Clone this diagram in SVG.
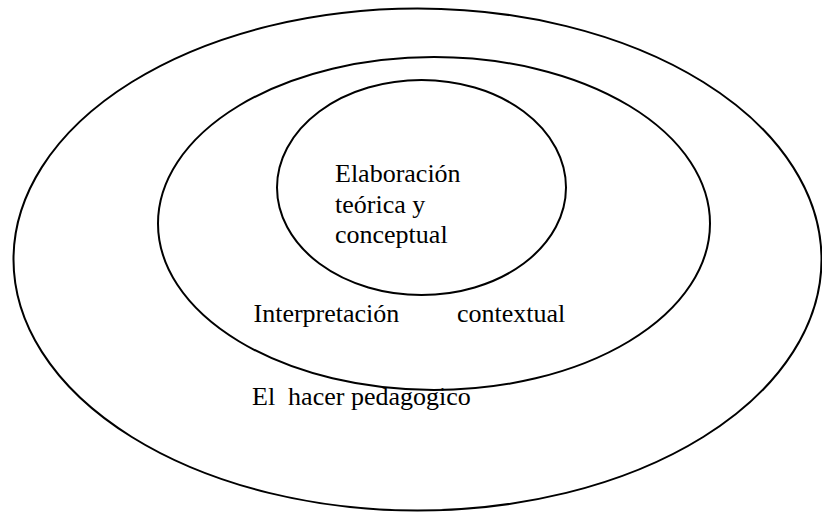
<svg xmlns="http://www.w3.org/2000/svg" width="822" height="512" viewBox="0 0 822 512">
<style>
.ring{fill:none;stroke:#000;stroke-width:2}
.t{font-family:"Liberation Serif","Times New Roman",serif;font-size:26px;fill:#000;white-space:pre}
</style>
<rect x="0" y="0" width="822" height="512" fill="#fff"/>
<g id="outer">
<ellipse class="ring" cx="417.5" cy="259.5" rx="404" ry="251"/>
<text class="t" x="252" y="405" xml:space="preserve">El  hacer pedagogico</text>
</g>
<g id="middle">
<ellipse class="ring" cx="434" cy="223.5" rx="276" ry="166.5"/>
<text class="t" x="253.5" y="322">Interpretación</text>
<text class="t" x="457" y="322">contextual</text>
</g>
<g id="inner">
<ellipse class="ring" cx="421.5" cy="187.5" rx="144.5" ry="107.5"/>
<text class="t" x="335" y="181.5">Elaboración</text>
<text class="t" x="335" y="212.5">teórica y</text>
<text class="t" x="335" y="243">conceptual</text>
</g>
<g id="connectors"/>
</svg>
